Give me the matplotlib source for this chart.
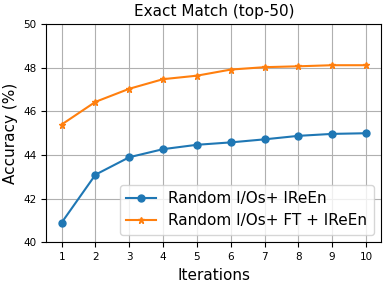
import matplotlib
matplotlib.use("Agg")
import matplotlib.pyplot as plt

# Iteration steps and accuracy values
iterations = [1, 2, 3, 4, 5, 6, 7, 8, 9, 10]
acc_ireen = [40.9, 43.1, 43.9, 44.27, 44.47, 44.58, 44.72, 44.88, 44.97, 45.0]
acc_ft_ireen = [45.4, 46.44, 47.04, 47.48, 47.64, 47.92, 48.03, 48.07, 48.12, 48.12]
labels = ["Random I/Os+ IReEn", "Random I/Os+ FT + IReEn"]

fig, ax = plt.subplots(figsize=(3.87, 2.85), dpi=100)
ax.plot(iterations, acc_ireen, marker="o", markersize=5, label=labels[0])
ax.plot(iterations, acc_ft_ireen, marker="*", markersize=5, label=labels[1])

ax.set_title("Exact Match (top-50)", fontsize=11)
ax.set_xlabel("Iterations", fontsize=11)
ax.set_ylabel("Accuracy (%)", fontsize=11)
ax.set_ylim(40, 50)
ax.set_xticks(iterations)
ax.tick_params(labelsize=7.5)
ax.grid(True)
ax.legend(fontsize=11, loc="lower right")

fig.subplots_adjust(left=0.12, right=0.985, top=0.915, bottom=0.15)
fig.savefig("out.png", dpi=100)
